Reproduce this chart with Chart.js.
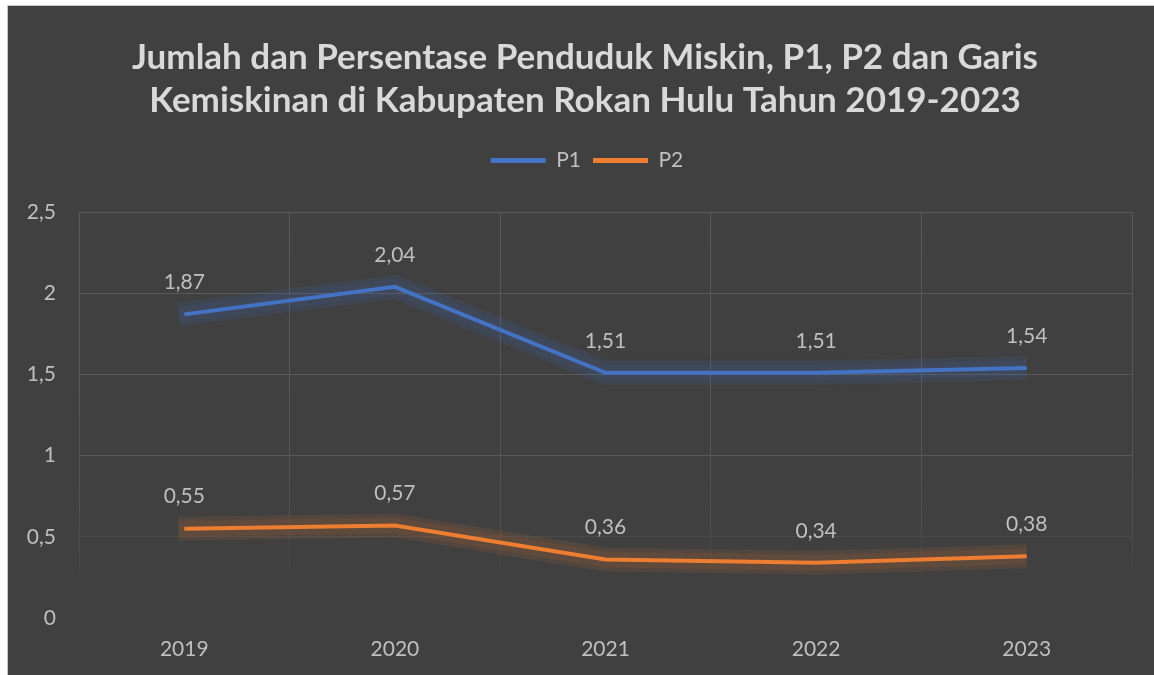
<!DOCTYPE html>
<html>
<head>
<meta charset="utf-8">
<script src="https://cdn.jsdelivr.net/npm/chart.js@4.4.1/dist/chart.umd.min.js"></script>
<style>
    html, body { margin: 0; padding: 0; background: #ffffff; }
    #frame {
        position: absolute;
        left: 7px;
        top: 5px;
        width: 1147px;
        height: 670px;
        background: #404040;
        border-left: 1px solid #c8c8c8;
        border-top: 1px solid #c8c8c8;
    }
    #chart { position: absolute; left: 0; top: 0; }
</style>
</head>
<body>
<div id="frame"><canvas id="chart" width="1147" height="670"></canvas></div>
<script>
const years = ['2019', '2020', '2021', '2022', '2023'];
const p1Values = [1.87, 2.04, 1.51, 1.51, 1.54];
const p2Values = [0.55, 0.57, 0.36, 0.34, 0.38];
const titleLines = [
    'Jumlah dan Persentase Penduduk Miskin, P1, P2 dan Garis',
    'Kemiskinan di Kabupaten Rokan Hulu Tahun 2019-2023'
];

const P1_COLOR = '#4472c4';
const P2_COLOR = '#ed7d31';
const LABEL_COLOR = '#bfbfbf';
const GRID_COLOR = '#5a5a5a';
const FONT_FAMILY = 'Lato, "Open Sans", sans-serif';

function commaNumber(value, digits) {
    return Number(value).toFixed(digits).replace('.', ',');
}

function axisNumber(value) {
    return String(value).replace('.', ',');
}

function hexToRgba(hexColor, alpha) {
    const hex = hexColor.replace('#', '');
    const r = parseInt(hex.slice(0, 2), 16);
    const g = parseInt(hex.slice(2, 4), 16);
    const b = parseInt(hex.slice(4, 6), 16);
    return `rgba(${r}, ${g}, ${b}, ${alpha})`;
}

// wide soft band under each line, like the office "glow" effect
const lineGlow = {
    id: 'lineGlow',
    beforeDatasetDraw(chart, args) {
        const ds = chart.data.datasets[args.index];
        const pts = args.meta.data;
        const ctx = chart.ctx;
        const glowAlpha = args.index === 0 ? 0.12 : 0.1;
        ctx.save();
        ctx.lineJoin = 'round';
        ctx.lineCap = 'butt';
        [[24, glowAlpha], [16, glowAlpha * 0.8]].forEach(([width, alpha]) => {
            ctx.beginPath();
            pts.forEach((pt, i) => {
                if (i === 0) ctx.moveTo(pt.x - 6, pt.y);
                else ctx.lineTo(pt.x, pt.y);
            });
            ctx.lineWidth = width;
            ctx.strokeStyle = hexToRgba(ds.borderColor, alpha);
            ctx.shadowColor = hexToRgba(ds.borderColor, alpha);
            ctx.shadowBlur = 6;
            ctx.stroke();
        });
        ctx.restore();
    }
};

const pointLabels = {
    id: 'pointLabels',
    afterDatasetsDraw(chart) {
        const ctx = chart.ctx;
        ctx.save();
        ctx.font = `21px ${FONT_FAMILY}`;
        ctx.fillStyle = LABEL_COLOR;
        ctx.textAlign = 'center';
        ctx.textBaseline = 'middle';
        chart.data.datasets.forEach((ds, i) => {
            chart.getDatasetMeta(i).data.forEach((pt, j) => {
                ctx.fillText(commaNumber(ds.data[j], 2), pt.x, pt.y - 32);
            });
        });
        ctx.restore();
    }
};

function shiftDraw(box, dx) {
    const originalDraw = box.draw;
    box.draw = function draw() {
        this.ctx.save();
        this.ctx.translate(dx, 0);
        originalDraw.apply(this, arguments);
        this.ctx.restore();
    };
}

// extra room between legend and plot area, and centre the header over the plot
const headerLayout = {
    id: 'headerLayout',
    beforeInit(chart) {
        const originalFit = chart.legend.fit;
        chart.legend.fit = function fit() {
            originalFit.bind(chart.legend)();
            this.height += 31;
        };
        shiftDraw(chart.legend, 17);
        shiftDraw(chart.titleBlock, 15);
    }
};

function verticalGridColor(context) {
    const area = context.chart.chartArea;
    if (!area) return GRID_COLOR;
    const g = context.chart.ctx.createLinearGradient(0, area.top, 0, area.bottom);
    g.addColorStop(0, GRID_COLOR);
    g.addColorStop(0.6, '#565656');
    g.addColorStop(0.85, '#4a4a4a');
    g.addColorStop(0.92, 'rgba(64, 64, 64, 0)');
    g.addColorStop(1, 'rgba(64, 64, 64, 0)');
    return g;
}

function horizontalGridColor(context) {
    const v = context.tick ? context.tick.value : null;
    if (v === 0) return 'rgba(0, 0, 0, 0)';
    if (v === 0.5) return '#4b4b4b';
    return GRID_COLOR;
}

new Chart(document.getElementById('chart'), {
    type: 'line',
    data: {
        labels: years,
        datasets: [{
            label: 'P1',
            data: p1Values,
            borderColor: P1_COLOR,
            backgroundColor: P1_COLOR,
            borderWidth: 4,
            pointRadius: 0,
            tension: 0,
            fill: false
        }, {
            label: 'P2',
            data: p2Values,
            borderColor: P2_COLOR,
            backgroundColor: P2_COLOR,
            borderWidth: 4,
            pointRadius: 0,
            tension: 0,
            fill: false
        }]
    },
    options: {
        responsive: false,
        animation: false,
        devicePixelRatio: 1,
        layout: { padding: { left: 0, right: 23, top: 0, bottom: 0 } },
        plugins: {
            title: {
                display: true,
                text: titleLines,
                color: '#d9d9d9',
                font: { family: FONT_FAMILY, size: 35, weight: 'bold', lineHeight: 1.23 },
                padding: { top: 30, bottom: 16 }
            },
            legend: {
                display: true,
                position: 'top',
                labels: {
                    color: LABEL_COLOR,
                    font: { family: FONT_FAMILY, size: 21 },
                    boxWidth: 55,
                    boxHeight: 5,
                    padding: 12,
                    generateLabels: (chart) => {
                        const items = Chart.defaults.plugins.legend.labels.generateLabels(chart);
                        items.forEach((item) => { item.lineWidth = 0; });
                        return items;
                    }
                }
            },
            tooltip: { enabled: false }
        },
        scales: {
            x: {
                offset: true,
                border: { display: false },
                grid: { offset: true, drawTicks: false, color: verticalGridColor, lineWidth: 1 },
                ticks: {
                    color: LABEL_COLOR,
                    font: { family: FONT_FAMILY, size: 21 },
                    padding: 19
                },
                afterFit: (scale) => { scale.height = 58; }
            },
            y: {
                min: 0,
                max: 2.5,
                border: { display: false },
                grid: { drawTicks: false, color: horizontalGridColor, lineWidth: 1 },
                ticks: {
                    stepSize: 0.5,
                    color: LABEL_COLOR,
                    font: { family: FONT_FAMILY, size: 21 },
                    padding: 23,
                    callback: (value) => axisNumber(value)
                },
                afterFit: (scale) => { scale.width = 71; }
            }
        }
    },
    plugins: [lineGlow, pointLabels, headerLayout]
});
</script>
</body>
</html>
